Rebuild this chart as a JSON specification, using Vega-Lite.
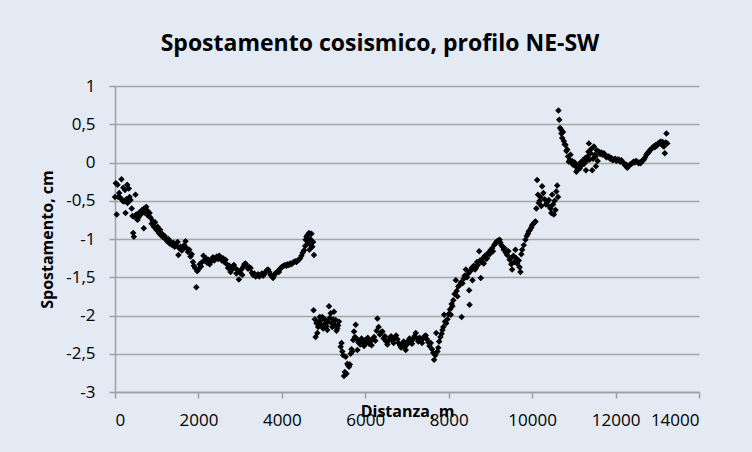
{
  "$schema": "https://vega.github.io/schema/vega-lite/v6.json",
  "width": 584,
  "height": 306,
  "autosize": "none",
  "padding": {"left": 115, "top": 86, "right": 53, "bottom": 60},
  "background": "#e3eaf3",
  "title": {
    "text": "Spostamento cosismico, profilo NE-SW",
    "font": "Open Sans",
    "fontSize": 23,
    "fontWeight": "bold",
    "color": "black",
    "anchor": "middle",
    "dx": -27,
    "offset": 21
  },
  "data": {
    "values": [
      {"d": 0, "s": -0.45}, {"d": 20, "s": -0.27}, {"d": 40, "s": -0.68}, {"d": 60, "s": -0.29}, {"d": 80, "s": -0.45},
      {"d": 100, "s": -0.4}, {"d": 130, "s": -0.46}, {"d": 156, "s": -0.22}, {"d": 180, "s": -0.5}, {"d": 200, "s": -0.33},
      {"d": 211, "s": -0.51}, {"d": 240, "s": -0.36}, {"d": 252, "s": -0.66}, {"d": 270, "s": -0.48}, {"d": 292, "s": -0.29},
      {"d": 300, "s": -0.53}, {"d": 331, "s": -0.34}, {"d": 350, "s": -0.45}, {"d": 372, "s": -0.49}, {"d": 400, "s": -0.6},
      {"d": 420, "s": -0.7}, {"d": 436, "s": -0.92}, {"d": 451, "s": -0.97}, {"d": 460, "s": -0.71}, {"d": 492, "s": -0.42},
      {"d": 510, "s": -0.68}, {"d": 540, "s": -0.75}, {"d": 560, "s": -0.72}, {"d": 590, "s": -0.65}, {"d": 620, "s": -0.68},
      {"d": 650, "s": -0.62}, {"d": 690, "s": -0.86}, {"d": 700, "s": -0.6}, {"d": 720, "s": -0.66}, {"d": 750, "s": -0.58},
      {"d": 780, "s": -0.63}, {"d": 800, "s": -0.7}, {"d": 830, "s": -0.66}, {"d": 850, "s": -0.72}, {"d": 880, "s": -0.8},
      {"d": 900, "s": -0.76}, {"d": 930, "s": -0.84}, {"d": 960, "s": -0.78}, {"d": 990, "s": -0.88}, {"d": 1020, "s": -0.84},
      {"d": 1050, "s": -0.92}, {"d": 1080, "s": -0.88}, {"d": 1100, "s": -0.95}, {"d": 1130, "s": -0.93}, {"d": 1160, "s": -0.98},
      {"d": 1190, "s": -0.96}, {"d": 1220, "s": -1.0}, {"d": 1250, "s": -1.03}, {"d": 1280, "s": -1.0}, {"d": 1310, "s": -1.06},
      {"d": 1340, "s": -1.04}, {"d": 1370, "s": -1.08}, {"d": 1400, "s": -1.05}, {"d": 1430, "s": -1.1}, {"d": 1460, "s": -1.08},
      {"d": 1500, "s": -1.04}, {"d": 1520, "s": -1.21}, {"d": 1540, "s": -1.12}, {"d": 1570, "s": -1.1}, {"d": 1600, "s": -1.15},
      {"d": 1630, "s": -1.13}, {"d": 1660, "s": -1.08}, {"d": 1690, "s": -1.03}, {"d": 1720, "s": -1.12}, {"d": 1750, "s": -1.17},
      {"d": 1780, "s": -1.14}, {"d": 1810, "s": -1.23}, {"d": 1840, "s": -1.2}, {"d": 1870, "s": -1.3}, {"d": 1890, "s": -1.35},
      {"d": 1920, "s": -1.38}, {"d": 1950, "s": -1.63}, {"d": 1970, "s": -1.42}, {"d": 2000, "s": -1.4}, {"d": 2030, "s": -1.33},
      {"d": 2060, "s": -1.36}, {"d": 2090, "s": -1.3}, {"d": 2120, "s": -1.22}, {"d": 2150, "s": -1.28}, {"d": 2180, "s": -1.25},
      {"d": 2210, "s": -1.31}, {"d": 2240, "s": -1.27}, {"d": 2270, "s": -1.33}, {"d": 2290, "s": -1.3}, {"d": 2320, "s": -1.26},
      {"d": 2350, "s": -1.24}, {"d": 2380, "s": -1.28}, {"d": 2410, "s": -1.25}, {"d": 2440, "s": -1.23}, {"d": 2470, "s": -1.26},
      {"d": 2500, "s": -1.22}, {"d": 2530, "s": -1.24}, {"d": 2560, "s": -1.28}, {"d": 2590, "s": -1.25}, {"d": 2620, "s": -1.3},
      {"d": 2650, "s": -1.27}, {"d": 2680, "s": -1.33}, {"d": 2710, "s": -1.38}, {"d": 2740, "s": -1.35}, {"d": 2770, "s": -1.43},
      {"d": 2800, "s": -1.4}, {"d": 2830, "s": -1.36}, {"d": 2850, "s": -1.34}, {"d": 2880, "s": -1.38}, {"d": 2910, "s": -1.45},
      {"d": 2940, "s": -1.41}, {"d": 2970, "s": -1.53}, {"d": 3000, "s": -1.44}, {"d": 3030, "s": -1.4}, {"d": 3050, "s": -1.47},
      {"d": 3080, "s": -1.36}, {"d": 3100, "s": -1.33}, {"d": 3130, "s": -1.32}, {"d": 3160, "s": -1.35}, {"d": 3190, "s": -1.39},
      {"d": 3220, "s": -1.37}, {"d": 3250, "s": -1.38}, {"d": 3280, "s": -1.44}, {"d": 3310, "s": -1.47}, {"d": 3340, "s": -1.45},
      {"d": 3370, "s": -1.49}, {"d": 3400, "s": -1.48}, {"d": 3430, "s": -1.46}, {"d": 3460, "s": -1.49}, {"d": 3490, "s": -1.47},
      {"d": 3520, "s": -1.45}, {"d": 3550, "s": -1.48}, {"d": 3580, "s": -1.46}, {"d": 3610, "s": -1.43}, {"d": 3640, "s": -1.41},
      {"d": 3670, "s": -1.4}, {"d": 3700, "s": -1.43}, {"d": 3730, "s": -1.47}, {"d": 3760, "s": -1.49}, {"d": 3790, "s": -1.51},
      {"d": 3810, "s": -1.48}, {"d": 3840, "s": -1.45}, {"d": 3870, "s": -1.44}, {"d": 3900, "s": -1.42}, {"d": 3930, "s": -1.43},
      {"d": 3960, "s": -1.39}, {"d": 3990, "s": -1.37}, {"d": 4020, "s": -1.36}, {"d": 4050, "s": -1.35}, {"d": 4080, "s": -1.34},
      {"d": 4110, "s": -1.35}, {"d": 4140, "s": -1.33}, {"d": 4170, "s": -1.34}, {"d": 4200, "s": -1.32}, {"d": 4230, "s": -1.33},
      {"d": 4260, "s": -1.31}, {"d": 4290, "s": -1.3}, {"d": 4320, "s": -1.29}, {"d": 4350, "s": -1.3}, {"d": 4380, "s": -1.28},
      {"d": 4410, "s": -1.27}, {"d": 4440, "s": -1.25}, {"d": 4470, "s": -1.22}, {"d": 4500, "s": -1.18}, {"d": 4530, "s": -1.15},
      {"d": 4560, "s": -1.09}, {"d": 4570, "s": -1.01}, {"d": 4590, "s": -0.97}, {"d": 4610, "s": -0.95}, {"d": 4630, "s": -1.05},
      {"d": 4650, "s": -0.92}, {"d": 4660, "s": -1.14}, {"d": 4680, "s": -1.0}, {"d": 4690, "s": -1.08}, {"d": 4710, "s": -0.93},
      {"d": 4730, "s": -1.1}, {"d": 4750, "s": -1.04}, {"d": 4770, "s": -1.21}, {"d": 4760, "s": -1.93}, {"d": 4790, "s": -2.05},
      {"d": 4810, "s": -2.28}, {"d": 4830, "s": -2.1}, {"d": 4850, "s": -2.23}, {"d": 4870, "s": -2.15}, {"d": 4890, "s": -2.08},
      {"d": 4910, "s": -2.02}, {"d": 4930, "s": -2.12}, {"d": 4950, "s": -2.06}, {"d": 4970, "s": -2.02}, {"d": 4990, "s": -2.17},
      {"d": 5010, "s": -2.12}, {"d": 5030, "s": -2.05}, {"d": 5050, "s": -2.1}, {"d": 5070, "s": -2.14}, {"d": 5090, "s": -2.19},
      {"d": 5110, "s": -2.08}, {"d": 5130, "s": -1.88}, {"d": 5150, "s": -2.03}, {"d": 5170, "s": -1.97}, {"d": 5190, "s": -2.1},
      {"d": 5210, "s": -2.15}, {"d": 5230, "s": -2.05}, {"d": 5250, "s": -1.95}, {"d": 5270, "s": -2.12}, {"d": 5290, "s": -2.06},
      {"d": 5310, "s": -2.2}, {"d": 5330, "s": -2.17}, {"d": 5350, "s": -2.13}, {"d": 5370, "s": -2.08}, {"d": 5410, "s": -2.41},
      {"d": 5430, "s": -2.36}, {"d": 5450, "s": -2.47}, {"d": 5470, "s": -2.52}, {"d": 5490, "s": -2.79}, {"d": 5510, "s": -2.74},
      {"d": 5530, "s": -2.54}, {"d": 5550, "s": -2.76}, {"d": 5570, "s": -2.63}, {"d": 5590, "s": -2.65}, {"d": 5610, "s": -2.67},
      {"d": 5630, "s": -2.64}, {"d": 5650, "s": -2.5}, {"d": 5670, "s": -2.44}, {"d": 5690, "s": -2.47}, {"d": 5710, "s": -2.32},
      {"d": 5730, "s": -2.21}, {"d": 5750, "s": -2.28}, {"d": 5770, "s": -2.12}, {"d": 5790, "s": -2.3}, {"d": 5810, "s": -2.45},
      {"d": 5830, "s": -2.35}, {"d": 5850, "s": -2.33}, {"d": 5880, "s": -2.38}, {"d": 5910, "s": -2.3}, {"d": 5940, "s": -2.35},
      {"d": 5970, "s": -2.4}, {"d": 6000, "s": -2.32}, {"d": 6030, "s": -2.36}, {"d": 6060, "s": -2.29}, {"d": 6090, "s": -2.37},
      {"d": 6120, "s": -2.34}, {"d": 6150, "s": -2.39}, {"d": 6180, "s": -2.31}, {"d": 6210, "s": -2.28}, {"d": 6240, "s": -2.33},
      {"d": 6270, "s": -2.2}, {"d": 6290, "s": -2.04}, {"d": 6320, "s": -2.15}, {"d": 6350, "s": -2.25}, {"d": 6380, "s": -2.22},
      {"d": 6410, "s": -2.21}, {"d": 6440, "s": -2.3}, {"d": 6470, "s": -2.27}, {"d": 6500, "s": -2.34}, {"d": 6530, "s": -2.38},
      {"d": 6560, "s": -2.33}, {"d": 6590, "s": -2.29}, {"d": 6620, "s": -2.27}, {"d": 6650, "s": -2.32}, {"d": 6680, "s": -2.36},
      {"d": 6710, "s": -2.3}, {"d": 6740, "s": -2.26}, {"d": 6770, "s": -2.31}, {"d": 6800, "s": -2.36}, {"d": 6830, "s": -2.39},
      {"d": 6860, "s": -2.42}, {"d": 6890, "s": -2.37}, {"d": 6920, "s": -2.34}, {"d": 6950, "s": -2.41}, {"d": 6970, "s": -2.45},
      {"d": 7000, "s": -2.38}, {"d": 7030, "s": -2.33}, {"d": 7060, "s": -2.3}, {"d": 7090, "s": -2.35}, {"d": 7120, "s": -2.37},
      {"d": 7150, "s": -2.31}, {"d": 7180, "s": -2.27}, {"d": 7210, "s": -2.23}, {"d": 7240, "s": -2.3}, {"d": 7270, "s": -2.34},
      {"d": 7300, "s": -2.29}, {"d": 7330, "s": -2.33}, {"d": 7360, "s": -2.36}, {"d": 7390, "s": -2.3}, {"d": 7420, "s": -2.27},
      {"d": 7450, "s": -2.26}, {"d": 7480, "s": -2.31}, {"d": 7510, "s": -2.35}, {"d": 7540, "s": -2.4}, {"d": 7570, "s": -2.36},
      {"d": 7600, "s": -2.44}, {"d": 7630, "s": -2.49}, {"d": 7650, "s": -2.58}, {"d": 7680, "s": -2.52}, {"d": 7700, "s": -2.23},
      {"d": 7730, "s": -2.47}, {"d": 7750, "s": -2.42}, {"d": 7770, "s": -2.34}, {"d": 7800, "s": -2.28}, {"d": 7830, "s": -2.24},
      {"d": 7850, "s": -2.19}, {"d": 7870, "s": -2.15}, {"d": 7890, "s": -1.99}, {"d": 7910, "s": -2.08}, {"d": 7940, "s": -2.1},
      {"d": 7970, "s": -2.05}, {"d": 8000, "s": -1.98}, {"d": 8030, "s": -1.92}, {"d": 8050, "s": -1.99}, {"d": 8070, "s": -1.85},
      {"d": 8090, "s": -1.88}, {"d": 8110, "s": -1.8}, {"d": 8140, "s": -1.72}, {"d": 8170, "s": -1.54}, {"d": 8190, "s": -1.68},
      {"d": 8210, "s": -1.75}, {"d": 8230, "s": -1.62}, {"d": 8260, "s": -1.6}, {"d": 8290, "s": -1.57}, {"d": 8310, "s": -2.02},
      {"d": 8330, "s": -1.58}, {"d": 8360, "s": -1.52}, {"d": 8380, "s": -1.48}, {"d": 8410, "s": -1.4}, {"d": 8440, "s": -1.5},
      {"d": 8470, "s": -1.45}, {"d": 8490, "s": -1.67}, {"d": 8500, "s": -1.86}, {"d": 8520, "s": -1.42}, {"d": 8550, "s": -1.38},
      {"d": 8570, "s": -1.54}, {"d": 8600, "s": -1.35}, {"d": 8630, "s": -1.4}, {"d": 8650, "s": -1.38}, {"d": 8680, "s": -1.3},
      {"d": 8700, "s": -1.34}, {"d": 8730, "s": -1.16}, {"d": 8750, "s": -1.28}, {"d": 8770, "s": -1.51}, {"d": 8790, "s": -1.3},
      {"d": 8820, "s": -1.25}, {"d": 8840, "s": -1.32}, {"d": 8870, "s": -1.22}, {"d": 8900, "s": -1.26}, {"d": 8920, "s": -1.25},
      {"d": 8950, "s": -1.18}, {"d": 8980, "s": -1.2}, {"d": 9010, "s": -1.14}, {"d": 9040, "s": -1.12}, {"d": 9060, "s": -1.16},
      {"d": 9090, "s": -1.08}, {"d": 9120, "s": -1.06}, {"d": 9140, "s": -1.04}, {"d": 9160, "s": -1.03}, {"d": 9190, "s": -1.02},
      {"d": 9220, "s": -1.01}, {"d": 9240, "s": -1.05}, {"d": 9260, "s": -1.08}, {"d": 9290, "s": -1.1}, {"d": 9320, "s": -1.14},
      {"d": 9340, "s": -1.12}, {"d": 9370, "s": -1.18}, {"d": 9400, "s": -1.21}, {"d": 9430, "s": -1.16}, {"d": 9460, "s": -1.27},
      {"d": 9480, "s": -1.25}, {"d": 9500, "s": -1.33}, {"d": 9520, "s": -1.4}, {"d": 9550, "s": -1.22}, {"d": 9570, "s": -1.3},
      {"d": 9600, "s": -1.14}, {"d": 9620, "s": -1.25}, {"d": 9640, "s": -1.32}, {"d": 9680, "s": -1.28}, {"d": 9700, "s": -1.37},
      {"d": 9720, "s": -1.43}, {"d": 9740, "s": -1.2}, {"d": 9760, "s": -1.14}, {"d": 9800, "s": -1.08}, {"d": 9840, "s": -1.01},
      {"d": 9870, "s": -0.96}, {"d": 9900, "s": -0.93}, {"d": 9920, "s": -0.9}, {"d": 9950, "s": -0.88}, {"d": 9980, "s": -0.85},
      {"d": 10000, "s": -0.82}, {"d": 10030, "s": -0.8}, {"d": 10060, "s": -0.78}, {"d": 10080, "s": -0.77}, {"d": 10100, "s": -0.6},
      {"d": 10120, "s": -0.23}, {"d": 10140, "s": -0.42}, {"d": 10160, "s": -0.53}, {"d": 10180, "s": -0.5}, {"d": 10200, "s": -0.45},
      {"d": 10220, "s": -0.57}, {"d": 10240, "s": -0.31}, {"d": 10270, "s": -0.4}, {"d": 10300, "s": -0.48}, {"d": 10330, "s": -0.55},
      {"d": 10360, "s": -0.52}, {"d": 10400, "s": -0.49}, {"d": 10420, "s": -0.58}, {"d": 10440, "s": -0.6}, {"d": 10460, "s": -0.66},
      {"d": 10480, "s": -0.42}, {"d": 10500, "s": -0.55}, {"d": 10520, "s": -0.68}, {"d": 10540, "s": -0.5}, {"d": 10560, "s": -0.62},
      {"d": 10580, "s": -0.38}, {"d": 10600, "s": -0.3}, {"d": 10620, "s": -0.45}, {"d": 10630, "s": 0.68}, {"d": 10650, "s": 0.56},
      {"d": 10670, "s": 0.45}, {"d": 10690, "s": 0.43}, {"d": 10700, "s": 0.38}, {"d": 10720, "s": 0.32}, {"d": 10740, "s": 0.4},
      {"d": 10760, "s": 0.28}, {"d": 10780, "s": 0.24}, {"d": 10800, "s": 0.23}, {"d": 10820, "s": 0.15}, {"d": 10840, "s": 0.17},
      {"d": 10860, "s": 0.08}, {"d": 10880, "s": 0.01}, {"d": 10900, "s": 0.03}, {"d": 10920, "s": 0.1}, {"d": 10940, "s": 0.0},
      {"d": 10960, "s": 0.02}, {"d": 10980, "s": -0.03}, {"d": 11000, "s": -0.01}, {"d": 11020, "s": 0.0}, {"d": 11040, "s": -0.05},
      {"d": 11060, "s": -0.12}, {"d": 11080, "s": -0.1}, {"d": 11100, "s": -0.06}, {"d": 11120, "s": -0.03}, {"d": 11140, "s": -0.08},
      {"d": 11160, "s": 0.0}, {"d": 11180, "s": -0.04}, {"d": 11200, "s": 0.01}, {"d": 11220, "s": 0.03}, {"d": 11240, "s": -0.02},
      {"d": 11260, "s": 0.05}, {"d": 11280, "s": 0.06}, {"d": 11290, "s": -0.1}, {"d": 11310, "s": 0.02}, {"d": 11330, "s": 0.08},
      {"d": 11350, "s": 0.14}, {"d": 11360, "s": 0.25}, {"d": 11380, "s": 0.04}, {"d": 11400, "s": 0.12}, {"d": 11420, "s": 0.18},
      {"d": 11440, "s": -0.1}, {"d": 11460, "s": 0.05}, {"d": 11480, "s": 0.21}, {"d": 11500, "s": 0.1}, {"d": 11520, "s": 0.08},
      {"d": 11530, "s": -0.05}, {"d": 11550, "s": 0.16}, {"d": 11570, "s": 0.02}, {"d": 11600, "s": 0.14}, {"d": 11630, "s": 0.11},
      {"d": 11660, "s": 0.13}, {"d": 11690, "s": 0.1}, {"d": 11720, "s": 0.12}, {"d": 11750, "s": 0.09}, {"d": 11780, "s": 0.07},
      {"d": 11810, "s": 0.08}, {"d": 11840, "s": 0.08}, {"d": 11870, "s": 0.05}, {"d": 11900, "s": 0.06}, {"d": 11930, "s": 0.03},
      {"d": 11960, "s": 0.04}, {"d": 11990, "s": 0.05}, {"d": 12020, "s": 0.02}, {"d": 12050, "s": 0.04}, {"d": 12080, "s": 0.04},
      {"d": 12110, "s": 0.01}, {"d": 12140, "s": 0.03}, {"d": 12170, "s": 0.0}, {"d": 12200, "s": -0.01}, {"d": 12230, "s": -0.04},
      {"d": 12260, "s": -0.03}, {"d": 12280, "s": -0.07}, {"d": 12310, "s": -0.05}, {"d": 12340, "s": -0.03}, {"d": 12370, "s": -0.02},
      {"d": 12400, "s": -0.01}, {"d": 12430, "s": 0.01}, {"d": 12460, "s": 0.0}, {"d": 12490, "s": 0.02}, {"d": 12520, "s": 0.01},
      {"d": 12550, "s": -0.01}, {"d": 12580, "s": 0.0}, {"d": 12600, "s": -0.01}, {"d": 12630, "s": 0.02}, {"d": 12660, "s": 0.03},
      {"d": 12680, "s": 0.04}, {"d": 12710, "s": 0.07}, {"d": 12740, "s": 0.1}, {"d": 12760, "s": 0.12}, {"d": 12790, "s": 0.13},
      {"d": 12820, "s": 0.16}, {"d": 12850, "s": 0.17}, {"d": 12880, "s": 0.19}, {"d": 12910, "s": 0.21}, {"d": 12940, "s": 0.2},
      {"d": 12960, "s": 0.23}, {"d": 12990, "s": 0.22}, {"d": 13020, "s": 0.25}, {"d": 13040, "s": 0.25}, {"d": 13070, "s": 0.27},
      {"d": 13100, "s": 0.24}, {"d": 13120, "s": 0.27}, {"d": 13140, "s": 0.22}, {"d": 13160, "s": 0.21}, {"d": 13180, "s": 0.12},
      {"d": 13200, "s": 0.26}, {"d": 13220, "s": 0.38}, {"d": 13240, "s": 0.25}
    ]
  },
  "mark": {"type": "point", "shape": "diamond", "filled": true, "color": "black", "opacity": 1, "size": 42},
  "encoding": {
    "x": {
      "field": "d",
      "type": "quantitative",
      "scale": {"domain": [0, 14000], "nice": false},
      "axis": {
        "title": "Distanza, m",
        "values": [0, 2000, 4000, 6000, 8000, 10000, 12000, 14000],
        "format": "d",
        "grid": false,
        "titleBaseline": "alphabetic",
        "titleY": 24
      }
    },
    "y": {
      "field": "s",
      "type": "quantitative",
      "scale": {"domain": [-3, 1], "nice": false, "zero": false},
      "axis": {
        "title": "Spostamento, cm",
        "values": [-3, -2.5, -2, -1.5, -1, -0.5, 0, 0.5, 1],
        "format": ".1~f",
        "grid": true,
        "titleBaseline": "middle",
        "titleX": -68
      }
    }
  },
  "config": {
    "background": "#e3eaf3",
    "locale": {
      "number": {"decimal": ",", "thousands": ".", "grouping": [3], "currency": ["", " €"], "minus": "-"}
    },
    "view": {"stroke": null, "fill": "#e3eaf3"},
    "axis": {
      "domainColor": "#a0a0a0",
      "domainWidth": 1.5,
      "tickColor": "#a0a0a0",
      "tickWidth": 1.5,
      "tickSize": 6,
      "gridColor": "#a6a6a6",
      "gridWidth": 1.5,
      "labelFont": "Open Sans",
      "labelFontSize": 17,
      "labelColor": "black",
      "labelPadding": 14,
      "titleFont": "Open Sans",
      "titleFontSize": 16,
      "titleFontWeight": "bold",
      "titleColor": "black"
    }
  }
}
